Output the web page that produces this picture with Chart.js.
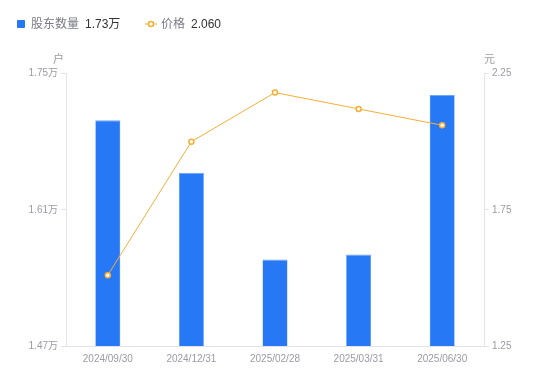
<!DOCTYPE html>
<html>
<head>
<meta charset="utf-8">
<script src="https://cdn.jsdelivr.net/npm/chart.js@4/dist/chart.umd.min.js"></script>
<style>
  html, body { margin:0; padding:0; background:#fff; }
  #wrap { position:relative; width:550px; height:381px; font-family:"Liberation Sans","Noto Sans CJK SC",sans-serif; }
  canvas { position:absolute; left:0; top:0; }
  .lg { position:absolute; top:16px; font-size:12px; line-height:16px; white-space:nowrap; }
  .lg .n { color:#7a7a86; }
  .lg .v { color:#333; margin-left:6px; }
  .sq { position:absolute; left:17px; top:20px; width:8px; height:8px; background:#2678F5; border-radius:1px; }
  .ttl { position:absolute; font-size:11px; color:#9a9aa8; }
</style>
</head>
<body>
<div id="wrap">
  <canvas id="c" width="550" height="381"></canvas>
  <div class="sq"></div>
  <div class="lg" style="left:31px"><span class="n">股东数量</span><span class="v">1.73万</span></div>
  <svg style="position:absolute;left:145px;top:19px" width="12" height="10"><line x1="0" y1="5" x2="12" y2="5" stroke="#F7AE35" stroke-width="1"/><circle cx="6" cy="5" r="2.5" fill="#fff" stroke="#F7AE35" stroke-width="1.5"/></svg>
  <div class="lg" style="left:161px"><span class="n">价格</span><span class="v">2.060</span></div>
  <div class="ttl" style="left:53px;top:50px">户</div>
  <div class="ttl" style="left:484px;top:50px">元</div>
</div>
<script>
const categories = ["2024/09/30","2024/12/31","2025/02/28","2025/03/31","2025/06/30"];
const holders = [1.702, 1.648, 1.559, 1.564, 1.728];
const prices = [1.51, 2.00, 2.18, 2.12, 2.06];
const leftTicks = [1.47, 1.61, 1.75];
const leftTickLabels = ["1.47万","1.61万","1.75万"];
const rightTicks = [1.25, 1.75, 2.25];
const rightTickLabels = ["1.25","1.75","2.25"];

const tickFont = { family: '"Liberation Sans","Noto Sans CJK SC",sans-serif', size: 10 };
const tickColor = '#9a9aa8';
const axisColor = '#e3e3e8';

new Chart(document.getElementById('c'), {
  data: {
    labels: categories,
    datasets: [
      { type:'line', label:'价格', data: prices, yAxisID:'y1', borderColor:'#F7AE35', borderWidth:1,
        pointRadius:2.5, pointBorderWidth:1.5, pointBackgroundColor:'#fff', pointBorderColor:'#F7AE35',
        tension:0, order:0 },
      { type:'bar', label:'股东数量', data: holders, yAxisID:'y', backgroundColor:'#2678F5',
        borderColor:'#6fa5f7', borderWidth:{top:1,left:0.5,right:0.5,bottom:0},
        barPercentage:0.3, categoryPercentage:1, order:1 }
    ]
  },
  options: {
    responsive:false, animation:false, devicePixelRatio:1,
    layout: { padding: { top:73.5, left:0, right:0, bottom:0 } },
    plugins: { legend:{ display:false }, tooltip:{ enabled:false } },
    scales: {
      x: {
        grid: { display:false, drawTicks:false },
        border: { display:true, color:axisColor },
        ticks: { font: tickFont, color: tickColor, padding: 7, maxRotation:0 },
        afterFit: s => { s.height = 35; }
      },
      y: {
        position:'left', min:1.47, max:1.75,
        grid: { drawOnChartArea:false, drawTicks:true, tickLength:5, tickColor: axisColor },
        border: { display:true, color:axisColor },
        afterBuildTicks: s => { s.ticks = leftTicks.map(v => ({value:v})); },
        ticks: { font: tickFont, color: tickColor, padding: 3,
          callback: (v, i) => leftTickLabels[i] },
        afterFit: s => { s.width = 66; }
      },
      y1: {
        position:'right', min:1.25, max:2.25,
        grid: { drawOnChartArea:false, drawTicks:true, tickLength:5, tickColor: axisColor },
        border: { display:true, color:axisColor },
        afterBuildTicks: s => { s.ticks = rightTicks.map(v => ({value:v})); },
        ticks: { font: tickFont, color: tickColor, padding: 3,
          callback: (v, i) => rightTickLabels[i] },
        afterFit: s => { s.width = 66; }
      }
    }
  }
});
</script>
</body>
</html>
